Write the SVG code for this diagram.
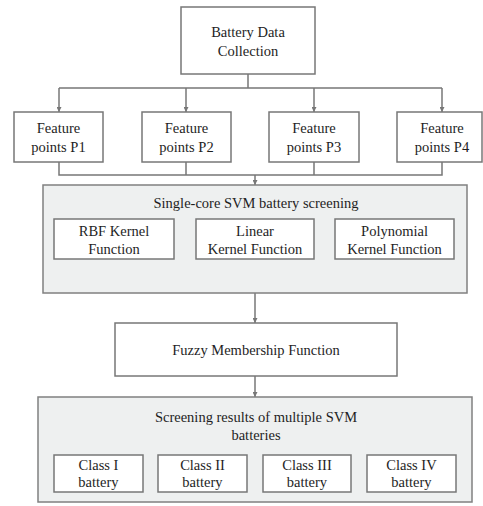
<svg xmlns="http://www.w3.org/2000/svg" width="483" height="506" viewBox="0 0 483 506">
<style>
.box{fill:#fff;stroke:#777;stroke-width:1.5}
.panel{fill:#eef0f0;stroke:#808080;stroke-width:1.5}
.ln{fill:none;stroke:#777;stroke-width:1.5}
text{font-family:"Liberation Serif","Times New Roman",serif;font-size:14.5px;fill:#1e1e1e;text-anchor:middle}
</style>
<defs>
<marker id="ah" viewBox="0 0 10 10" refX="10" refY="5" markerWidth="5" markerHeight="5" orient="auto" markerUnits="userSpaceOnUse">
<path d="M0,0 L10,5 L0,10 z" fill="#777"/>
</marker>
</defs>
<rect width="483" height="506" fill="#fff"/>
<g id="connectors">
<path class="ln" d="M248,74 V88 M59,88 H442"/>
<path class="ln" d="M59,88 V112" marker-end="url(#ah)"/>
<path class="ln" d="M186,88 V112" marker-end="url(#ah)"/>
<path class="ln" d="M314,88 V112" marker-end="url(#ah)"/>
<path class="ln" d="M442,88 V112" marker-end="url(#ah)"/>
<path class="ln" d="M59,162 V175 H442 V162 M186,162 V175 M314,162 V175"/>
<path class="ln" d="M255,175 V185" marker-end="url(#ah)"/>
<path class="ln" d="M255,293 V323" marker-end="url(#ah)"/>
<path class="ln" d="M255,376 V397" marker-end="url(#ah)"/>
</g>
<g id="collection">
<rect class="box" x="181" y="7" width="134" height="67"/>
<text x="248" y="37">Battery Data</text>
<text x="248" y="56">Collection</text>
</g>
<g id="p1">
<rect class="box" x="14" y="112" width="89" height="50"/>
<text x="58.5" y="133">Feature</text>
<text x="58.5" y="152">points P1</text>
</g>
<g id="p2">
<rect class="box" x="142" y="112" width="89" height="50"/>
<text x="186.5" y="133">Feature</text>
<text x="186.5" y="152">points P2</text>
</g>
<g id="p3">
<rect class="box" x="269" y="112" width="90" height="50"/>
<text x="314" y="133">Feature</text>
<text x="314" y="152">points P3</text>
</g>
<g id="p4">
<rect class="box" x="397" y="112" width="85" height="50"/>
<text x="442" y="133">Feature</text>
<text x="442" y="152">points P4</text>
</g>
<g id="svm">
<rect class="panel" x="43" y="185" width="424" height="108"/>
<text x="256" y="208">Single-core SVM battery screening</text>
<rect class="box" x="54" y="219" width="120" height="40"/>
<text x="114" y="236">RBF Kernel</text>
<text x="114" y="254">Function</text>
<rect class="box" x="196" y="219" width="118" height="40"/>
<text x="255" y="236">Linear</text>
<text x="255" y="254">Kernel Function</text>
<rect class="box" x="335" y="219" width="119" height="40"/>
<text x="394.5" y="236">Polynomial</text>
<text x="394.5" y="254">Kernel Function</text>
</g>
<g id="fuzzy">
<rect class="box" x="115" y="323" width="282" height="53"/>
<text x="256" y="355">Fuzzy Membership Function</text>
</g>
<g id="results">
<rect class="panel" x="38" y="397" width="434" height="105"/>
<text x="256" y="422">Screening results of multiple SVM</text>
<text x="256" y="440">batteries</text>
<rect class="box" x="54" y="455" width="89" height="37"/>
<text x="98.5" y="470">Class I</text>
<text x="98.5" y="487">battery</text>
<rect class="box" x="158" y="455" width="89" height="37"/>
<text x="202.5" y="470">Class II</text>
<text x="202.5" y="487">battery</text>
<rect class="box" x="263" y="455" width="88" height="37"/>
<text x="307" y="470">Class III</text>
<text x="307" y="487">battery</text>
<rect class="box" x="367" y="455" width="89" height="37"/>
<text x="411.5" y="470">Class IV</text>
<text x="411.5" y="487">battery</text>
</g>
</svg>
